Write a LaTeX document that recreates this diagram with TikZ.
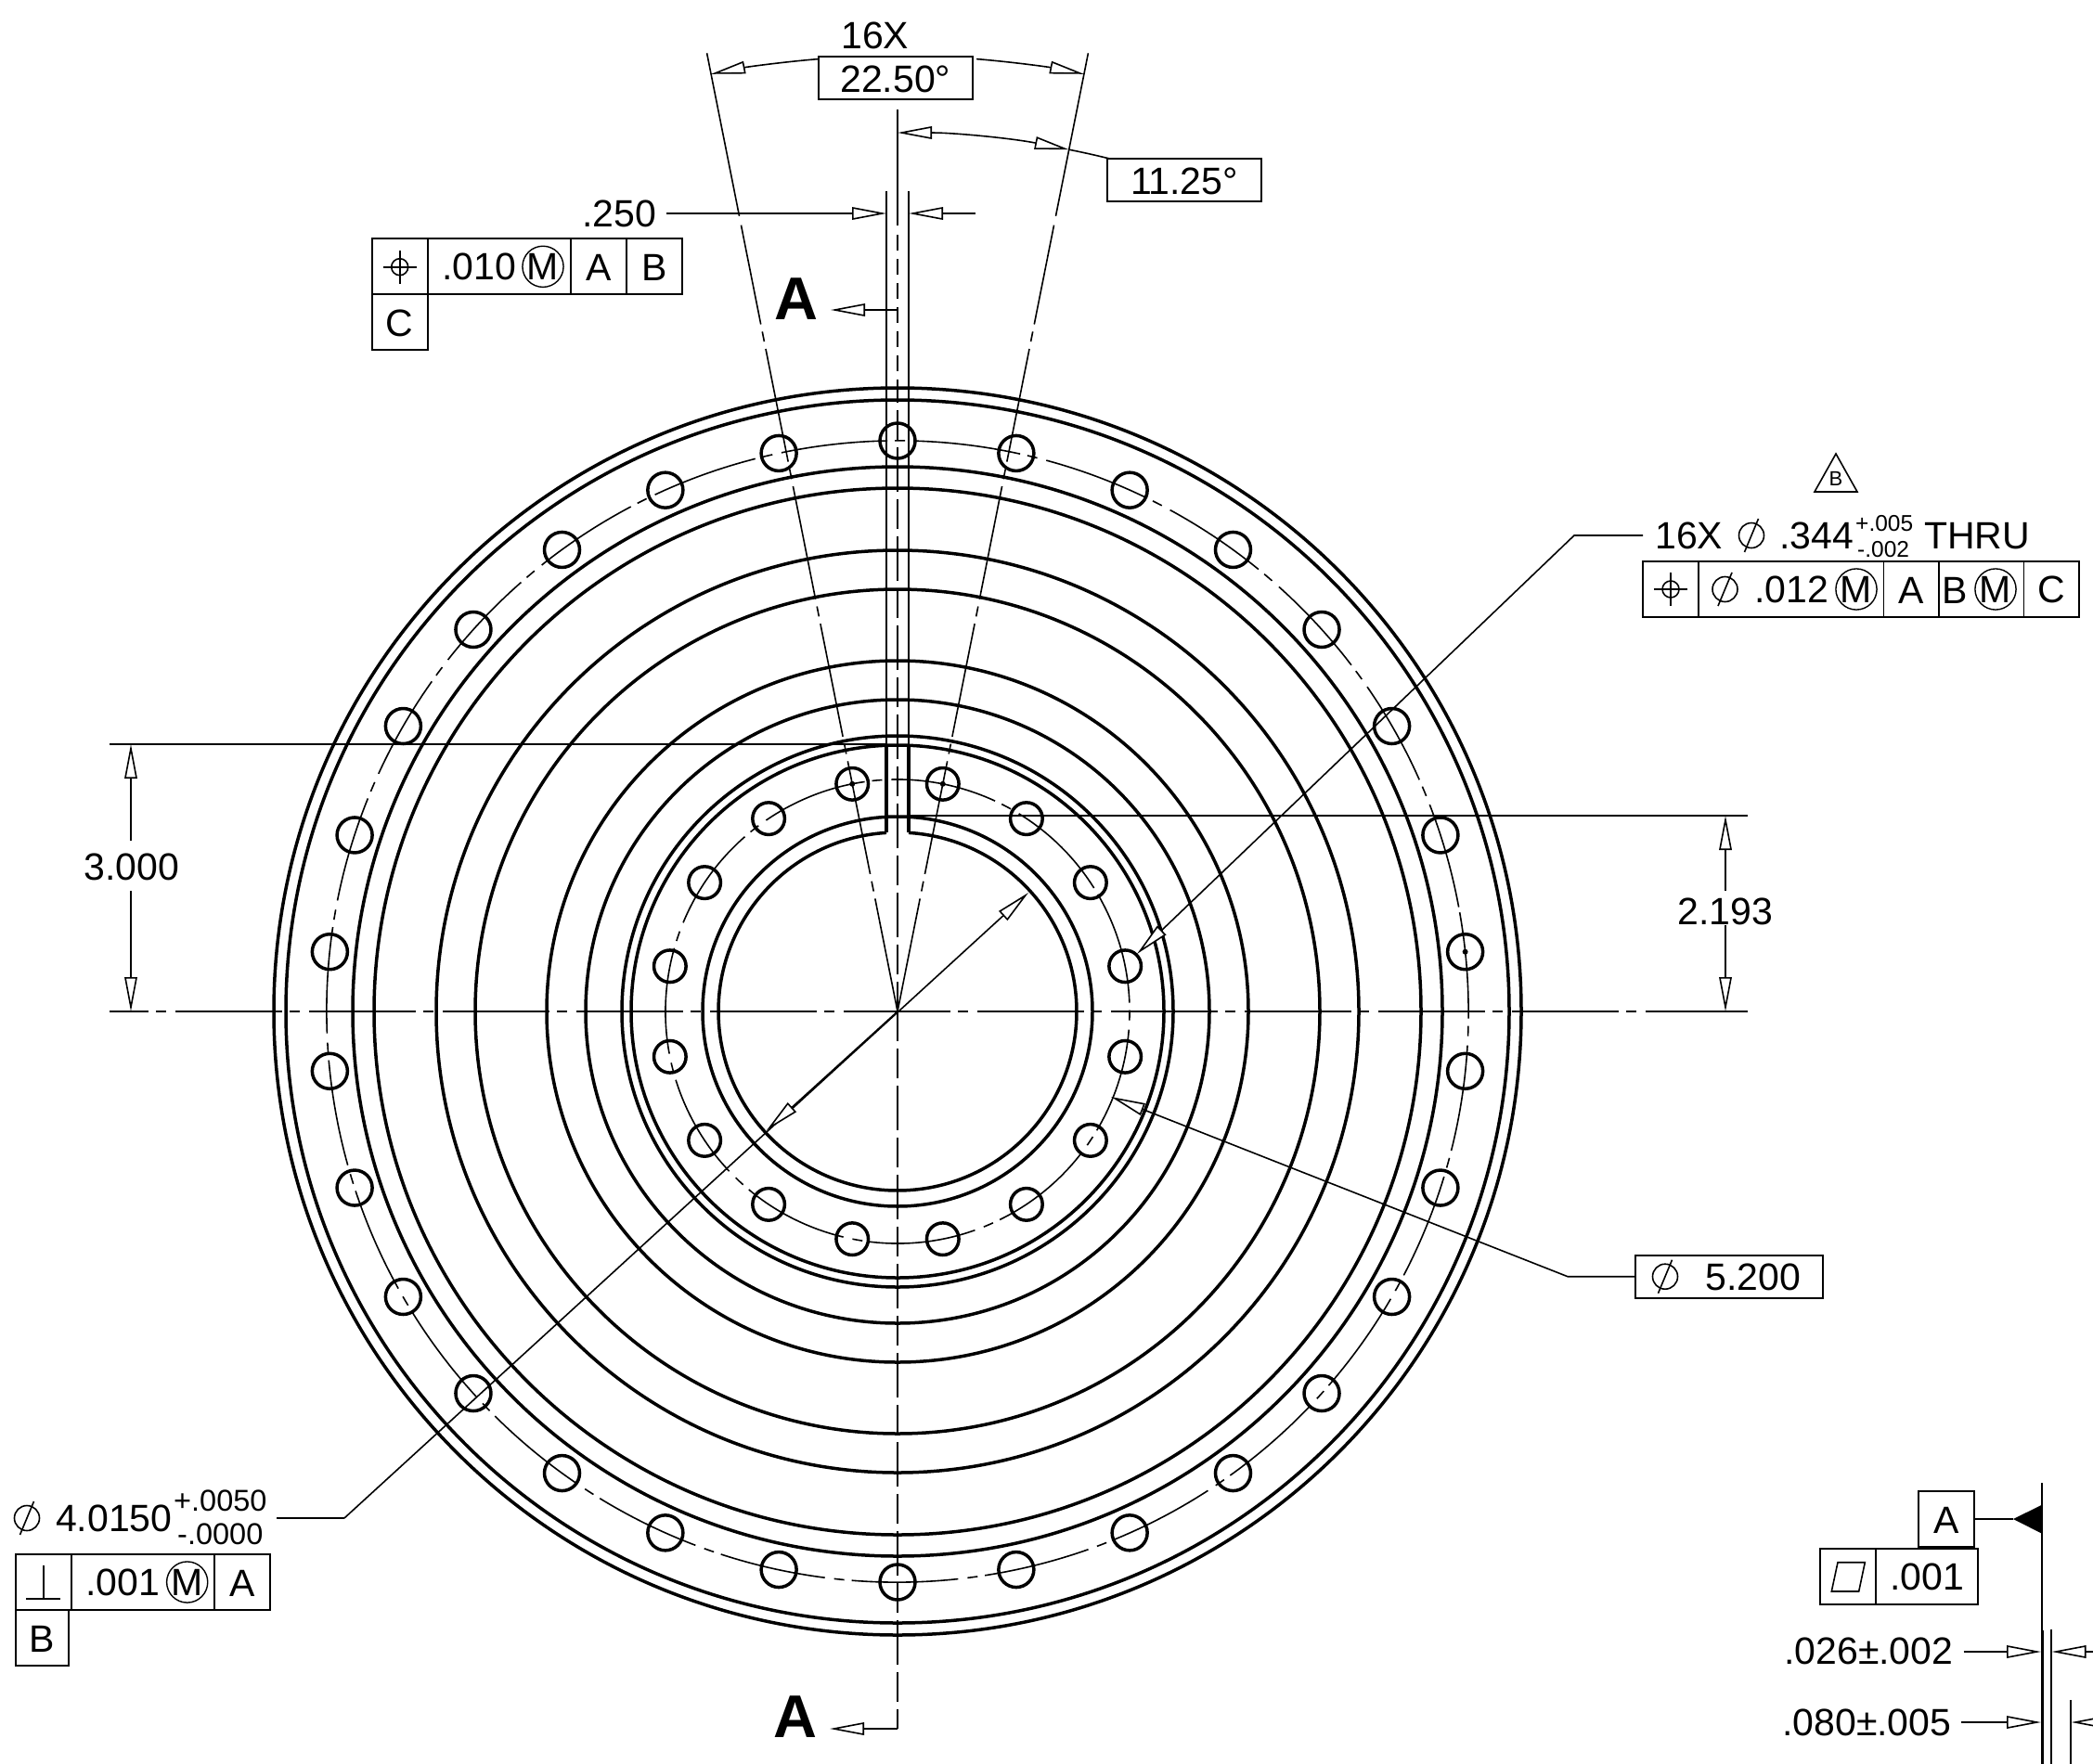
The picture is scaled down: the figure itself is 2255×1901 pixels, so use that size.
\documentclass[tikz,border=0pt]{standalone}
\usepackage{fontspec}
\setmainfont{Liberation Sans}
\usetikzlibrary{arrows.meta}
\tikzset{
  dimhead/.tip={Triangle[length=37pt,width=13.5pt,fill=white]},
  thinline/.style={line width=1.6pt},
  boldline/.style={line width=3.5pt},
  cline/.style={thinline,dash pattern=on 115pt off 8pt on 11pt off 10pt},
  radline/.style={thinline,dash pattern=on 124pt off 8pt on 11pt off 8pt},
  secline/.style={thinline,dash pattern=on 48pt off 8pt on 32pt off 8pt,dash phase=16pt},
  lab/.style={inner sep=0pt,font=\fontsize{41}{48}\selectfont},
  tolb/.style={inner sep=0pt,font=\fontsize{32.5}{38}\selectfont},
  tols/.style={inner sep=0pt,font=\fontsize{24.5}{28}\selectfont},
  cell/.style={draw,line width=1.8pt,inner sep=0pt,minimum height=60pt,text height=30.6pt,font=\fontsize{41}{48}\selectfont},
  dimbox/.style={draw,line width=1.8pt,inner sep=0pt,fill=white,text height=31pt,font=\fontsize{41}{48}\selectfont},
  mcirc/.style={circle,draw,line width=1.4pt,minimum size=44pt,inner sep=0pt,font=\fontsize{41}{48}\selectfont},
  secname/.style={inner sep=0pt,font=\fontsize{65}{78}\selectfont\bfseries},
  diasym/.pic={\draw[thinline] (0,0) circle (13.5); \draw[thinline] (-7.5,-18) -- (7.5,18);},
  possym/.pic={\draw[thinline] (0,0) circle (9); \draw[thinline] (-18,0) -- (18,0); \draw[thinline] (0,-18) -- (0,18);}
}

\begin{document}
\begin{tikzpicture}[x=1pt,y=1pt]
\useasboundingbox (0,0) rectangle (2255,-1901);
\begin{scope}[shift={(967,-1090)}]
\coordinate (ctr) at (0,0);
%Concentric outlines
\foreach \r in {210,287,297,336,378,455,497,564,587,659,672}
  \draw[boldline] (ctr) circle (\r);
\draw[boldline] (93.56:193) arc[start angle=93.56,end angle=446.44,radius=193];
%Keyway
\draw[boldline] (-12,192.6) -- (-12,287);
\draw[boldline] (12,192.6) -- (12,287);
%Bolt holes
\foreach \a in {0,...,29}
  \draw[boldline] ({90+12*\a}:615) circle (19);
\foreach \a in {0,...,15}
  \draw[boldline] ({11.25+22.5*\a}:250) circle (17.3);
\fill (78.75:250) circle (3);
\fill (101.25:250) circle (3);
\fill (6:615) circle (3);
%Bolt circles
\draw[cline] (10:615) arc[start angle=10,end angle=-350,radius=615];
\draw[cline] (28.5:250) arc[start angle=28.5,end angle=-331.5,radius=250];
%Centre lines
\draw[cline,dash phase=73pt] (-849,0) -- (916,0);
\draw[secline] (ctr) -- (0,-773);
\draw[secline] (ctr) -- (0,672);
\draw[thinline,dash pattern=on 17pt off 9pt] (0,837) -- (0,672);
\draw[thinline] (0,972) -- (0,847);
%Angle rays
\foreach \a in {78.75,101.25}{
  \draw[radline] (ctr) -- (\a:864);
  \draw[thinline] (\a:874) -- (\a:1053);
}
%16X angle
\draw[thinline,dimhead-] (101.25:1030) arc[start angle=101.25,end angle=94.74,radius=1030];
\draw[thinline,dimhead-] (78.75:1030) arc[start angle=78.75,end angle=85.26,radius=1030];
\draw[thinline,dimhead-dimhead] (90:947) arc[start angle=90,end angle=78.75,radius=947];
\draw[thinline] (78.75:947) arc[start angle=78.75,end angle=76.07,radius=947];
%Bore diameter
\coordinate (boretip) at (141,128);
\coordinate (boreback) at (-141,-128);
\coordinate (borekink) at (-596,-546);
\draw[thinline,-dimhead] (borekink) -- (boretip);
\draw[thinline,-dimhead] (ctr) -- (boreback);
\end{scope}
%Angle text
\node[lab,anchor=base west] (lbl16x) at (906,-52) {16X};
\node[dimbox,minimum width=166.4pt,minimum height=46pt] (boxtw) at (964.8,-83.7) {22.50°};
\node[dimbox,minimum width=166pt,minimum height=46pt] (boxel) at (1276,-194) {11.25°};
%Keyway width
\coordinate (kwl) at (955,-230);
\coordinate (kwr) at (979,-230);
\node[lab,anchor=base west] (lblkw) at (627,-244) {.250};
\draw[thinline] (955,-206) -- (955,-802);
\draw[thinline] (979,-206) -- (979,-802);
\draw[thinline,-dimhead] (718,-230) -- (kwl);
\draw[thinline,-dimhead] (1051,-230) -- (kwr);
%Section arrows
\node[secname] (seca) at (858,-322) {A};
\node[secname] (secb) at (857,-1850) {A};
\draw[thinline,-dimhead] (967,-334) -- (895,-334);
\draw[thinline,-dimhead] (967,-1863) -- (894,-1863);
%Frame upper left
\node[cell,minimum width=60pt] (ulsym) at (430.7,-287.2) {};
\node[cell,minimum width=154.3pt] (ultol) at (537.9,-287.2) {};
\node[cell,minimum width=60pt] (ula) at (645,-287.2) {A};
\node[cell,minimum width=60pt] (ulb) at (705,-287.2) {B};
\node[cell,minimum width=60pt] (ulc) at (430.7,-347.2) {C};
\pic at (430.7,-287.7) {possym};
\node[lab,anchor=base west] (ulval) at (476,-301) {.010};
\node[mcirc] (ulm) at (585,-287.3) {M};
%3.000 dimension
\node[lab,text height=30.6pt] (lblthree) at (142,-933) {3.000};
\coordinate (thrtop) at (141,-802);
\coordinate (thrbot) at (141,-1090);
\draw[thinline] (118,-802) -- (955,-802);
\draw[thinline,-dimhead] (141,-906) -- (thrtop);
\draw[thinline,-dimhead] (141,-960) -- (thrbot);
%2.193 dimension
\node[lab,text height=30.6pt] (lbltwo) at (1859,-981.5) {2.193};
\coordinate (twotop) at (1859,-879);
\coordinate (twobot) at (1859,-1090);
\draw[thinline] (979,-879) -- (1883,-879);
\draw[thinline,-dimhead] (1859,-960) -- (twotop);
\draw[thinline,-dimhead] (1859,-997) -- (twobot);
%Hole callout
\draw[thinline] (1955,-530) -- (2001,-530) -- (1978,-489) -- cycle;
\node[inner sep=0pt,font=\fontsize{22}{26}\selectfont] (revb) at (1978,-515.5) {B};
\node[lab,anchor=base west] (holeqty) at (1783,-591) {16X};
\pic at (1887,-577) {diasym};
\node[lab,anchor=base west] (holeval) at (1917,-591) {.344};
\node[tols,anchor=base west] (holeup) at (1999,-572) {+.005};
\node[tols,anchor=base west] (holedn) at (2001,-600) {-.002};
\node[lab,anchor=base west] (holethru) at (2073,-591) {THRU};
\coordinate (holetip) at (1225,-1028);
\draw[thinline,-dimhead] (1770,-577) -- (1696,-577) -- (holetip);
\node[cell,minimum width=60pt] (ursym) at (1800,-634.7) {};
\node[cell,minimum width=199.5pt] (urtol) at (1929.75,-634.7) {};
\node[cell,minimum width=59.5pt] (ura) at (2059.25,-634.7) {A};
\node[cell,minimum width=91.5pt] (urb) at (2134.75,-634.7) {};
\node[cell,minimum width=59.5pt] (urc) at (2210.25,-634.7) {C};
\pic at (1800,-635) {possym};
\pic at (1858.5,-635) {diasym};
\node[lab,anchor=base west] (urval) at (1890,-649) {.012};
\node[mcirc] (urm) at (2000,-635) {M};
\node[lab,text height=30.6pt] (urbl) at (2106,-635) {B};
\node[mcirc] (urbm) at (2150,-635) {M};
%Bolt circle diameter
\node[dimbox,minimum width=202.3pt,minimum height=46pt] (boxdia) at (1862.85,-1375.7) {};
\pic at (1794,-1375.7) {diasym};
\node[lab,anchor=base west] (diaval) at (1837,-1390) {5.200};
\coordinate (diatip) at (1197,-1182);
\draw[thinline,-dimhead] (boxdia.west) -- (1689,-1375.7) -- (diatip);
%Frame lower left
\pic at (29,-1636) {diasym};
\node[lab,anchor=base west] (boreval) at (60,-1650) {4.0150};
\node[tolb,anchor=base west] (boreup) at (187,-1628) {+.0050};
\node[tolb,anchor=base west] (boredn) at (191,-1664) {-.0000};
\draw[thinline] (298,-1636) -- (371,-1636);
\node[cell,minimum width=59.7pt] (llsym) at (46.85,-1705) {};
\node[cell,minimum width=154.3pt] (lltol) at (153.85,-1705) {};
\node[cell,minimum width=60pt] (lla) at (261,-1705) {A};
\node[cell,minimum width=57pt] (llb) at (45.5,-1765) {B};
\draw[thinline] (28,-1723) -- (65,-1723);
\draw[thinline] (46.7,-1723) -- (46.7,-1687);
\node[lab,anchor=base west] (llval) at (92,-1719.5) {.001};
\node[mcirc] (llm) at (201.7,-1705) {M};
%Datum and thickness
\draw[line width=2pt] (2200,-1598) -- (2200,-1757);
\draw[line width=3pt] (2200,-1757) -- (2200,-1901);
\draw[line width=2.6pt] (2210,-1756) -- (2210,-1901);
\draw[line width=2.4pt] (2231,-1832) -- (2231,-1901);
\node[cell,minimum width=60.3pt] (datuma) at (2096.85,-1637) {A};
\coordinate (datumtip) at (2169,-1637);
\draw[thinline] (datuma.east) -- (datumtip);
\fill (datumtip) -- (2200,-1621.7) -- (2200,-1652.7) -- cycle;
\node[cell,minimum width=60pt] (flatsym) at (1991,-1699) {};
\node[cell,minimum width=110.3pt] (flatval) at (2076.15,-1699) {};
\draw[thinline] (1973.3,-1715) -- (2002.7,-1715) -- (2009.3,-1683.7) -- (1980,-1683.7) -- cycle;
\node[lab,anchor=base west] (flattxt) at (2036,-1713.5) {.001};
\node[lab,anchor=base west] (thka) at (1922,-1793.5) {.026±.002};
\node[lab,anchor=base west] (thkb) at (1920,-1870.5) {.080±.005};
\draw[thinline,-dimhead] (2115.7,-1780) -- (2199,-1780);
\draw[thinline,-dimhead] (2290,-1780) -- (2210.5,-1780);
\draw[thinline,-dimhead] (2113,-1856) -- (2199,-1856);
\draw[thinline,-dimhead] (2290,-1856) -- (2231.5,-1856);
\end{tikzpicture}
\end{document}
